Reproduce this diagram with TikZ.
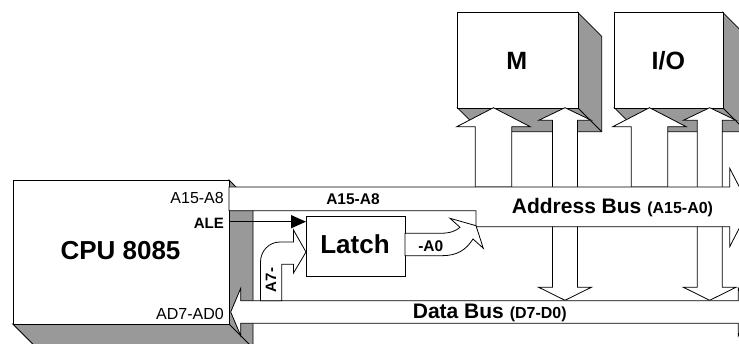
\documentclass[tikz,border=0pt]{standalone}
\usepackage{fontspec}
\setmainfont{Liberation Sans}
\usetikzlibrary{arrows.meta}
\definecolor{shade}{RGB}{153,153,153}
\begin{document}
\begin{tikzpicture}[x=1pt,y=-1pt,
  outl/.style={draw=black,line width=0.8pt,line join=miter},
  face/.style={outl,fill=white},
  shad/.style={outl,fill=shade},
  lbl/.style={inner sep=0pt,font=\fontsize{16}{19}\selectfont},
  blbl/.style={inner sep=0pt,font=\fontsize{15.5}{19}\selectfont\bfseries},
  big/.style={inner sep=0pt,font=\fontsize{26}{30}\selectfont\bfseries},
]
\clip (0,0) rectangle (739,344);
% CPU box
\draw[shad] (12.7,324) -- (229,324) -- (229,180) -- (253,204) -- (253,348) -- (36.7,348) -- cycle;
\draw[outl] (229,324) -- (253,348);
\node[face,minimum width=216.3pt,minimum height=144pt,inner sep=0pt,anchor=north west] (cpubox) at (12.7,180) {};
% M box
\draw[shad] (457.3,107.7) -- (481.3,131.7) -- (601.7,131.7) -- (601.7,36.3) -- (577.7,12.3) -- (577.7,107.7) -- cycle;
\draw[outl] (577.7,107.7) -- (601.7,131.7);
\node[face,minimum width=120.4pt,minimum height=95.4pt,inner sep=0pt,anchor=north west] (mbox) at (457.3,12.3) {};
% I/O box
\draw[shad] (614.3,107.7) -- (638.3,131.7) -- (746.7,131.7) -- (746.7,36.3) -- (722.7,12.3) -- (722.7,107.7) -- cycle;
\draw[outl] (722.7,107.7) -- (746.7,131.7);
\node[face,minimum width=108.4pt,minimum height=95.4pt,inner sep=0pt,anchor=north west] (iobox) at (614.3,12.3) {};
% up arrows from address bus
\draw[face] (475.2,187) -- (475.2,126.7) -- (456.8,126.7) -- (493.5,107.7) -- (530.2,126.7) -- (511.8,126.7) -- (511.8,187) -- cycle;
\draw[face] (631.2,187) -- (631.2,126.7) -- (612.8,126.7) -- (649.5,107.7) -- (686.2,126.7) -- (667.8,126.7) -- (667.8,187) -- cycle;
% double arrows to data bus
\draw[face] (552.5,120.3) -- (538.7,120.3) -- (565,107.7) -- (591.3,120.3) -- (577.5,120.3) -- (577.5,287.3) -- (591.3,287.3) -- (565,300.3) -- (538.7,287.3) -- (552.5,287.3) -- cycle;
\draw[face] (697.2,120.3) -- (683.4,120.3) -- (709.7,107.7) -- (736,120.3) -- (722.2,120.3) -- (722.2,287.3) -- (736,287.3) -- (709.7,300.3) -- (683.4,287.3) -- (697.2,287.3) -- cycle;
% address bus
\draw[face] (229,187) -- (729.7,187) -- (729.7,168.3) -- (750,207.5) -- (729.7,246.7) -- (729.7,226.7) -- (476,226.7) -- (476,210.7) -- (229,210.7) -- cycle;
% data bus
\draw[face] (230.7,312) -- (240.7,288.3) -- (240.7,300.7) -- (738.3,300.7) -- (738.3,288.3) -- (748.3,312) -- (738.3,335.7) -- (738.3,323.3) -- (240.7,323.3) -- (240.7,335.7) -- cycle;
% latch
\node[face,minimum width=99pt,minimum height=60pt,inner sep=0pt,anchor=north west] (latch) at (306,216) {};
% A7- arrow
\draw[face] (260.5,300.7) -- (260.5,262) .. controls (260.5,251) and (269,242) .. (280,242) -- (293.5,242) -- (293.5,230) -- (306,252) -- (293.5,273) -- (293.5,264.3) -- (281.7,264.3) -- (281.7,300.7) -- cycle;
% -A0 arrow
\draw[face] (405,233.3) -- (440,233.3) .. controls (450,233.3) and (456,231) .. (460,227.3) -- (450,218.3) -- (476,225.7) -- (483.3,248.3) -- (473,239) .. controls (466,250) and (457,255.7) .. (442,255.7) -- (405,255.7) -- cycle;
% ALE
\coordinate (alestart) at (229,221.7);
\draw[line width=1.3pt,-{Triangle[length=15pt,width=13pt]}] (alestart) -- (latch.west |- alestart);
% texts
\node[big] (cputxt) at (120.5,251) {CPU 8085};
\node[big] (latchtxt) at (355,244) {Latch};
\node[big,font=\fontsize{25}{30}\selectfont\bfseries] (mtxt) at (516.7,61) {M};
\node[big,font=\fontsize{25}{30}\selectfont\bfseries] (iotxt) at (668.3,61) {I/O};
\node[lbl,anchor=east] (a15cpu) at (224,198.3) {A15-A8};
\node[blbl,font=\fontsize{15}{18}\selectfont\bfseries,anchor=east] (aletxt) at (224,223) {ALE};
\node[lbl,anchor=east] (adtxt) at (224,314.2) {AD7-AD0};
\node[blbl] (a15bus) at (353,198.7) {A15-A8};
\node[blbl] (a0txt) at (430.8,245.8) {-A0};
\node[blbl,font=\fontsize{15}{18}\selectfont\bfseries,rotate=90] (a7txt) at (271,280) {A7-};
\node[inner sep=0pt,anchor=base west] (abus) at (511.7,213.5) {\fontsize{21}{25}\selectfont\bfseries Address Bus \fontsize{16}{19}\selectfont(A15-A0)};
\node[inner sep=0pt,anchor=base west] (dbus) at (412.7,318.5) {\fontsize{21}{25}\selectfont\bfseries Data Bus \fontsize{16}{19}\selectfont(D7-D0)};
\end{tikzpicture}
\end{document}
